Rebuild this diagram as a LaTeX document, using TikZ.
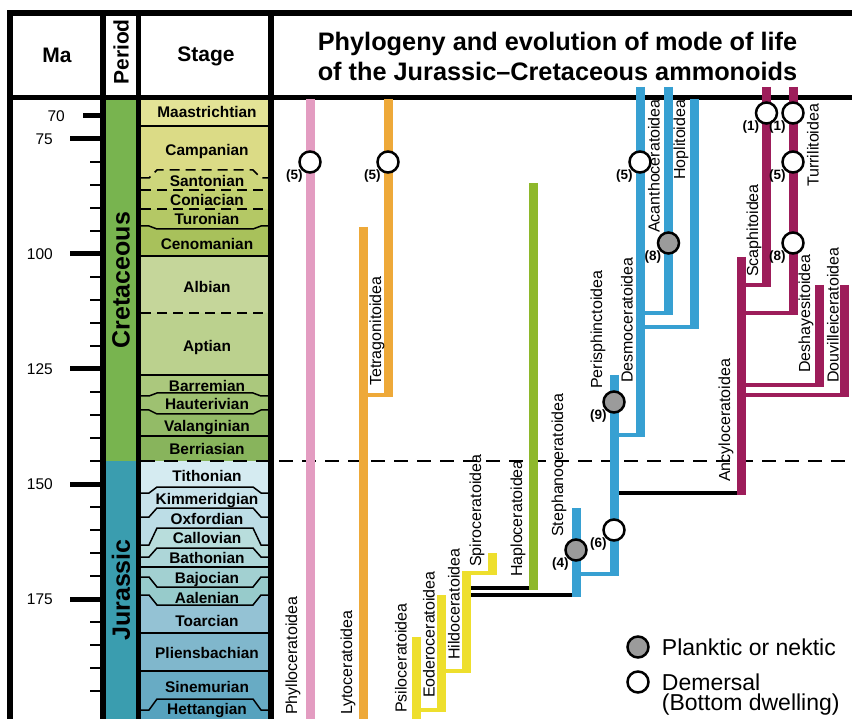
\documentclass[tikz,border=0pt]{standalone}
\usepackage{fontspec}
\setmainfont{Liberation Sans}
\usetikzlibrary{positioning}
\definecolor{maac}{HTML}{E3E396}
\definecolor{camc}{HTML}{DBDB86}
\definecolor{sanc}{HTML}{CDD67B}
\definecolor{conc}{HTML}{C0CF6F}
\definecolor{turc}{HTML}{B4C865}
\definecolor{cenc}{HTML}{A8C15B}
\definecolor{albc}{HTML}{C5D69A}
\definecolor{aptc}{HTML}{BBD18E}
\definecolor{barc}{HTML}{ABC87D}
\definecolor{hauc}{HTML}{9EC171}
\definecolor{valc}{HTML}{93BB67}
\definecolor{berc}{HTML}{88B45C}
\definecolor{titc}{HTML}{D5EBF1}
\definecolor{kimc}{HTML}{C8E3EB}
\definecolor{oxfc}{HTML}{BCDDE6}
\definecolor{cllc}{HTML}{B8DDDC}
\definecolor{batc}{HTML}{ADD6D8}
\definecolor{bajc}{HTML}{A2D0D1}
\definecolor{aalc}{HTML}{97CBCB}
\definecolor{toac}{HTML}{94C2D4}
\definecolor{plic}{HTML}{80B7CC}
\definecolor{sinc}{HTML}{68ABC4}
\definecolor{hetc}{HTML}{56A2BE}
\definecolor{cretc}{HTML}{78B44F}
\definecolor{jurc}{HTML}{3A9DAF}
\definecolor{phylc}{HTML}{E39CC1}
\definecolor{lytc}{HTML}{EEA939}
\definecolor{hapc}{HTML}{8EB82B}
\definecolor{psic}{HTML}{EEDF2D}
\definecolor{ammc}{HTML}{37A0D2}
\definecolor{ancc}{HTML}{9D1D5A}
\definecolor{dotc}{HTML}{9B9B9B}
\begin{document}
\begin{tikzpicture}[x=1pt, y=-1pt,
        frame/.style={line width=5.5pt},
        tick/.style={line width=2.5pt},
        bigtick/.style={line width=5pt},
        bnd/.style={line width=1.5pt},
        brk/.style={dash pattern=on 10pt off 6pt},
        kj/.style={line width=2pt, dash pattern=on 14pt off 9pt},
        bar/.style={line width=9pt},
        link/.style={line width=4.5pt},
        demersal/.style={circle, draw, line width=2.5pt, fill=white, minimum size=21pt, inner sep=0pt},
        planktic/.style={demersal, fill=dotc},
        num/.style={font=\bfseries\fontsize{13.5}{14}\selectfont, inner sep=0pt},
        taxon/.style={rotate=90, anchor=west, inner sep=0pt, font=\fontsize{16}{17}\selectfont},
        stg/.style={anchor=base, yshift=-5.4pt, inner sep=0pt, font=\bfseries\fontsize{15.4}{16}\selectfont},
        manum/.style={anchor=base east, yshift=-5.6pt, inner sep=0pt, font=\fontsize{15.5}{16}\selectfont},
        head/.style={inner sep=0pt, font=\bfseries\fontsize{21}{22}\selectfont},
        pername/.style={rotate=90, inner sep=0pt, font=\bfseries\fontsize{25}{26}\selectfont},
        ttl/.style={anchor=base, inner sep=0pt, font=\bfseries\fontsize{25.3}{26}\selectfont},
        keytxt/.style={inner sep=0pt, font=\fontsize{23}{20}\selectfont},
        label distance=-1.5pt]
    \useasboundingbox (0,0) rectangle (852,719);
    \fill[white] (0,0) rectangle (852,719);
    \fill[maac] (138,97) rectangle (271,719);
    \foreach \ye/\ym/\col in {126/126/camc, 178/170/sanc, 190/190/conc, 209/209/turc, 226/229/cenc,
            256/256/albc, 313/313/aptc, 375/375/barc, 396/393/hauc, 410/414/valc, 436/436/berc,
            461/461/titc, 493/487/kimc, 517/508/oxfc, 545/528/cllc, 557/548/batc, 567/567/bajc,
            577/587/aalc, 595/605/toac, 633/633/plic, 671/671/sinc, 710/699/hetc}
        \fill[\col] (138,719) -- (138,\ye) -- (149,\ye) -- (157,\ym) -- (253,\ym) -- (261,\ye) -- (271,\ye) -- (271,719) -- cycle;
    \fill[cretc] (103,97) rectangle (138,461);
    \fill[jurc] (103,461) rectangle (138,719);
    \foreach \ye/\ym/\sty in {126/126/solid, 178/170/brk, 190/190/brk, 209/209/brk, 226/229/solid,
            256/256/solid, 313/313/brk, 375/375/solid, 396/393/solid, 410/414/solid, 436/436/solid,
            493/487/solid, 517/508/solid, 545/528/solid, 557/548/solid, 567/567/solid,
            577/587/solid, 595/605/solid, 633/633/solid, 671/671/solid, 710/699/solid}
        \draw[bnd,\sty] (141,\ye) -- (149,\ye) -- (157,\ym) -- (253,\ym) -- (261,\ye) -- (269,\ye);
    \draw[kj] (141,461) -- (852,461);

    \draw[frame] (7,13) -- (852,13);
    \draw[frame] (7,97.5) -- (852,97.5);
    \draw[frame] (10,13) -- (10,719);
    \foreach \x in {103,138.5,271}
        \draw[frame] (\x,13) -- (\x,719);

    \foreach \m in {80,85,...,195}
        \draw[tick] (90,{139+(\m-75)*4.6}) -- (103,{139+(\m-75)*4.6});
    \foreach \m in {75,100,125,150,175} {
        \draw[bigtick] (70,{139+(\m-75)*4.6}) -- (103,{139+(\m-75)*4.6});
        \node[manum] (ma\m) at (53,{139+(\m-75)*4.6}) {\m};
    }
    \draw[bigtick] (83,116) -- (103,116);
    \node[manum] (ma70) at (65,116) {70};

    \node[head] (ma-h) at (57,55) {Ma};
    \node[head, rotate=90] (period-h) at (121,52) {Period};
    \node[head] (stage-h) at (206,56.5) {Stage};
    \node[ttl] (title1) at (557.5,51) {Phylogeny and evolution of mode of life};
    \node[ttl] (title2) at (557.5,81) {of the Jurassic--Cretaceous ammonoids};
    \node[pername] (cret-l) at (121,280) {Cretaceous};
    \node[pername] (jur-l) at (121,590) {Jurassic};

    \foreach \name/\y in {Maastrichtian/112, Campanian/150, Santonian/181, Coniacian/200, Turonian/219,
            Cenomanian/244, Albian/287, Aptian/346, Barremian/386, Hauterivian/404, Valanginian/426,
            Berriasian/449, Tithonian/476, Kimmeridgian/499, Oxfordian/519, Callovian/538,
            Bathonian/558, Bajocian/578, Aalenian/598, Toarcian/621, Pliensbachian/653,
            Sinemurian/687, Hettangian/709}
        \node[stg] (\name) at (207,\y) {\name};

    \foreach \n/\x/\t/\b in {phyllo/310/99/719, lyto/363.5/227/719, tetra/388/99/395,
            psilo/416.5/637/719, eodero/441.5/595/710, hildo/466.5/571/671, spiro/492/553/573,
            haplo/533/183/588, stephano/576/508/595, perisph/614/375/574,
            desmo/640/87/435, acanth/668.5/87/313, hopli/694.5/99/327,
            ancylo/741.5/257/493, scaph/766.5/87/285, turril/793/87/313,
            deshay/819/285/385, douvil/844.5/285/395} {
        \coordinate (\n-t) at (\x,\t);
        \coordinate (\n-b) at (\x,\b);
    }
    \draw[link,lytc] (tetra-b) -- (tetra-b -| lyto-t);
    \draw[link,psic] (eodero-b) -- (eodero-b -| psilo-t);
    \draw[link,psic] (hildo-b) -- (hildo-b -| eodero-t);
    \draw[link,psic] (spiro-b) -- (spiro-b -| hildo-t);
    \draw[link] (haplo-b) -- (haplo-b -| hildo-t);
    \draw[link] (stephano-b) -- (stephano-b -| hildo-t);
    \draw[link,ammc] (perisph-b) -- (perisph-b -| stephano-t);
    \draw[link,ammc] (desmo-b) -- (desmo-b -| perisph-t);
    \draw[link,ammc] (acanth-b) -- (acanth-b -| desmo-t);
    \draw[link,ammc] (hopli-b) -- (hopli-b -| desmo-t);
    \draw[link] (ancylo-b) -- (ancylo-b -| perisph-t);
    \foreach \n in {scaph,turril,deshay,douvil}
        \draw[link,ancc] (\n-b) -- (\n-b -| ancylo-t);
    \foreach \n/\col in {phyllo/phylc, lyto/lytc, tetra/lytc, psilo/psic, eodero/psic, hildo/psic,
            spiro/psic, haplo/hapc, stephano/ammc, perisph/ammc, desmo/ammc, acanth/ammc,
            hopli/ammc, ancylo/ancc, scaph/ancc, turril/ancc, deshay/ancc, douvil/ancc}
        \draw[bar,\col] (\n-t) -- ([yshift=-2.25pt]\n-b);

    \node[demersal, label={[num]below left:(5)}] (phyllo-c) at (310,162) {};
    \node[demersal, label={[num]below left:(5)}] (tetra-c) at (388,162) {};
    \node[planktic, label={[num]below left:(4)}] (stephano-c) at (576,550) {};
    \node[demersal, label={[num]below left:(6)}] (perisph-c1) at (614,530) {};
    \node[planktic, label={[num]below left:(9)}] (perisph-c2) at (614,402) {};
    \node[demersal, label={[num]below left:(5)}] (desmo-c) at (640,162) {};
    \node[planktic, label={[num]below left:(8)}] (acanth-c) at (668.5,243) {};
    \node[demersal, label={[num]below left:(1)}] (scaph-c) at (766.5,113) {};
    \node[demersal, label={[num]below left:(1)}] (turril-c1) at (793,113) {};
    \node[demersal, label={[num]below left:(5)}] (turril-c2) at (793,162) {};
    \node[demersal, label={[num]below left:(8)}] (turril-c3) at (793,243) {};

    \node[taxon] (phyllo-l) at (293,715) {Phylloceratoidea};
    \node[taxon] (lyto-l) at (348,715) {Lytoceratoidea};
    \node[taxon] (tetra-l) at (377,386) {Tetragonitoidea};
    \node[taxon] (psilo-l) at (401,713) {Psiloceratoidea};
    \node[taxon] (eodero-l) at (429,698) {Eoderoceratoidea};
    \node[taxon] (hildo-l) at (454,660) {Hildoceratoidea};
    \node[taxon] (spiro-l) at (477,567) {Spiroceratoidea};
    \node[taxon] (haplo-l) at (518,577) {Haploceratoidea};
    \node[taxon] (stephano-l) at (559,537) {Stephanoceratoidea};
    \node[taxon] (perisph-l) at (598,389) {Perisphinctoidea};
    \node[taxon] (desmo-l) at (627,383) {Desmoceratoidea};
    \node[taxon] (acanth-l) at (654,233) {Acanthoceratoidea};
    \node[taxon] (hopli-l) at (681,180) {Hoplitoidea};
    \node[taxon] (ancylo-l) at (726,482) {Ancyloceratoidea};
    \node[taxon] (scaph-l) at (754,277) {Scaphitoidea};
    \node[taxon] (turril-l) at (813,187) {Turrilitoidea};
    \node[taxon] (deshay-l) at (806,373) {Deshayesitoidea};
    \node[taxon] (douvil-l) at (833,383) {Douvilleiceratoidea};

    \node[planktic] (key-p) at (638,647) {};
    \node[keytxt, right=12pt of key-p] (key-p-t) {Planktic or nektic};
    \node[demersal] (key-d) at (638,682) {};
    \node[keytxt, align=left, anchor=north west] (key-d-t) at ([xshift=12pt]key-d.east |- 0,673.5) {Demersal\\(Bottom dwelling)};
\end{tikzpicture}
\end{document}
